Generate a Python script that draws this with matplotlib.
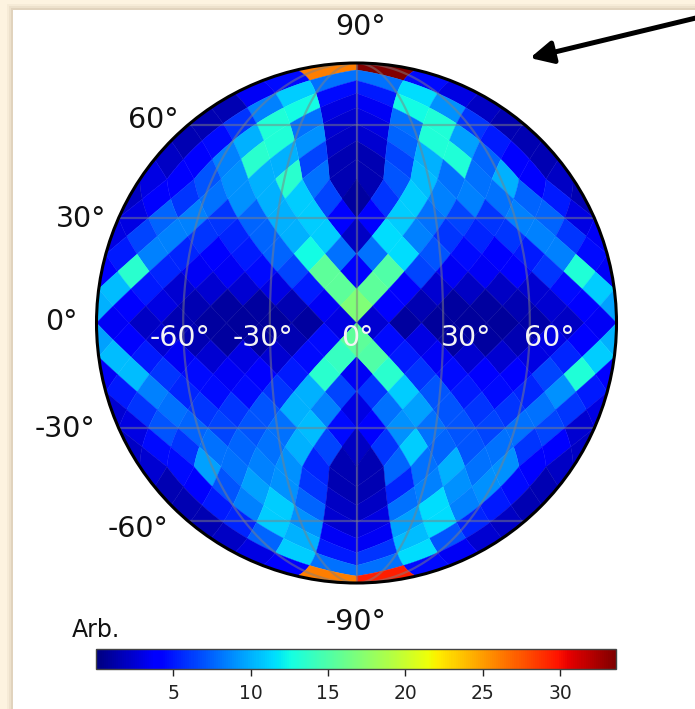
import numpy as np
import matplotlib
matplotlib.use("Agg")
import matplotlib.pyplot as plt
from matplotlib.collections import PolyCollection
from matplotlib.colors import Normalize
from matplotlib.patches import Circle, Rectangle, FancyArrowPatch
from matplotlib.projections.geo import MollweideAxes

W, H = 695, 709
NSIDE = 8

# Map values: one list per HEALPix ring, each read from the centre meridian outward.
north_west = [
    [26], [8, 4.5], [4.5, 11, 3.5], [3, 12.5, 8.5, 1.5], [2.5, 8, 13, 6, 1.5],
    [2, 9, 13, 10, 4.5, 1.5], [1.5, 6.5, 10, 13.5, 8.5, 4, 2],
    [1.5, 8, 13.5, 10, 9, 7, 4, 3], [1, 6.5, 11, 10, 9, 8, 6, 4, 2],
    [4, 11, 10, 7.5, 6, 8.5, 7.5, 3], [1.5, 11, 10, 7.5, 5.5, 6, 8.5, 6.5, 3],
    [8, 12.5, 7.5, 5, 4, 5.5, 8.5, 5], [3, 15.5, 6.5, 4.5, 3.5, 3.5, 5.5, 13.5, 4],
    [15.5, 5, 3, 2.5, 2.5, 2.5, 5, 10.5], [17, 3.5, 1.5, 1, 1, 1.5, 3, 4, 10],
    [3, 1, 0.8, 0.8, 1, 1.5, 2, 3.5],
]
north_east = [
    [33.6], [8, 4.5], [5, 11.5, 3], [3.5, 12.5, 9, 2], [3, 8, 13, 6, 1.5],
    [2.5, 7.5, 13, 9.5, 5, 1.5], [1.5, 6.5, 10, 13, 7.5, 4, 1.5],
    [1.5, 7, 10.5, 8, 8, 10, 4, 2], [1, 6, 11, 8.5, 8.5, 8, 7.5, 5, 1.5],
    [4, 11, 8, 6.5, 6, 8.5, 7.5, 3], [2, 11.5, 8.5, 6, 5.5, 6, 8.5, 6, 3.5],
    [8, 11.5, 7, 4.5, 4, 5, 8.5, 4.5], [4, 15, 6.5, 3.5, 3.5, 4, 6, 13, 3.5],
    [15.5, 4, 2.5, 2, 2, 2.5, 4.5, 11], [17, 3.8, 1.5, 1, 1, 1.5, 2.5, 4, 9.5],
    [2.5, 1, 0.8, 0.8, 0.8, 1.2, 2, 3.5],
]
south_west = [
    [15.5, 4.5, 1.5, 1, 1, 1.5, 2.5, 4, 9.5], [14, 4.5, 2.5, 3, 2.5, 3.5, 5, 10.5],
    [3.5, 13.5, 5, 3.8, 3.5, 4.5, 6, 10.5, 3.5], [6.5, 10, 6, 4.5, 4.5, 5.5, 8.5, 5],
    [3.5, 8.5, 10, 7, 6, 6, 8, 6, 2.5], [4.5, 10.5, 8, 7, 6.5, 7.5, 7, 3],
    [1.5, 6.5, 10, 8, 7.5, 8, 6, 4.5, 2], [1.5, 5.5, 9, 8.5, 8, 9.5, 4.5, 2.5],
    [1.5, 6, 9, 9.5, 7, 4, 1.5], [2, 7.5, 11, 8.5, 5, 1.5], [2.5, 9, 11, 5.5, 1.5],
    [3.5, 10, 7.5, 2], [5, 11, 3], [8, 4], [26],
]
south_east = [
    [15.5, 4.5, 3, 1, 1, 1.5, 3, 4, 10], [15, 5, 3.5, 2.5, 2.5, 3, 5.5, 11],
    [3.5, 13.5, 6, 4.5, 3.8, 4, 6.5, 13, 4], [6, 11, 7, 5, 4.5, 5.5, 9, 5],
    [3, 8, 9.5, 7, 6, 6, 8, 6, 3], [4, 9, 8, 7, 6.5, 8, 6.5, 2.5],
    [2, 6, 11, 7.5, 7, 8, 6, 4, 2], [1.5, 7.5, 8, 10, 8, 9, 4, 2],
    [1.5, 5.5, 8.5, 9, 9, 4.5, 1.5], [2, 8, 11.5, 8.5, 5, 1.5], [3, 9.5, 11.5, 5.5, 2],
    [3.5, 10.5, 7, 2.5], [6, 11.5, 3.5], [8, 4.5], [29.5],
]

colorbar_ticks = [5, 10, 15, 20, 25, 30]
value_min, value_max = 0.01, 33.6
parallels = [-60, -30, 30, 60]
meridians = [-60, -30, 0, 30, 60]

lat_labels = [("90°", 361, 27), ("60°", 153, 120), ("30°", 81, 219), ("0°", 61, 322),
              ("-30°", 65, 429), ("-60°", 138, 529), ("-90°", 356, 622)]
lon_labels = [("-60°", 180, 338), ("-30°", 263, 338), ("0°", 357, 338),
              ("30°", 466, 338), ("60°", 549, 338)]


def plane_to_sphere(xs, ys):
    """Inverse HEALPix projection, plane to (lon, lat) in radians."""
    xs, ys = np.asarray(xs, float), np.asarray(ys, float)
    lon, z = xs.copy(), 8 * ys / (3 * np.pi)
    polar = np.abs(ys) > np.pi / 4
    yt = np.abs(ys[polar])
    xt = xs[polar]
    xc = np.floor(xt / (np.pi / 2)) * (np.pi / 2) + np.pi / 4
    with np.errstate(divide="ignore", invalid="ignore"):
        t = np.where(yt < np.pi / 2 - 1e-9, (yt - np.pi / 4) / (yt - np.pi / 2), 0)
    lon[polar] = np.where(yt < np.pi / 2 - 1e-9, xt - t * (xt - xc), xc)
    z[polar] = np.sign(ys[polar]) * (1 - (2 - 4 * yt / np.pi) ** 2 / 3)
    return lon, np.arcsin(np.clip(z, -1, 1))


def pixel_outline(xc, yc):
    half = np.pi / (4 * NSIDE)
    cx = [xc, xc + half, xc, xc - half, xc]
    cy = [yc + half, yc, yc - half, yc, yc + half]
    t = np.linspace(0, 1, 10, endpoint=False)
    px = np.concatenate([cx[a] + (cx[a + 1] - cx[a]) * t for a in range(4)])
    py = np.concatenate([cy[a] + (cy[a + 1] - cy[a]) * t for a in range(4)])
    # keep polar pixels strictly inside their facet
    if abs(yc) > np.pi / 4 and abs(yc) + half > np.pi / 4:
        eps = 1e-9
        fx = np.floor(xc / (np.pi / 2)) * (np.pi / 2)
        px = np.clip(px, fx + eps, fx + np.pi / 2 - eps)
    return plane_to_sphere(px, py)


def ring_centres(ring, sign):
    """Plane x of one ring's pixels from the centre meridian outward."""
    step = np.pi / (2 * NSIDE)
    r = ring if ring <= 2 * NSIDE else 4 * NSIDE - ring
    if r < NSIDE:
        return [sign * (np.pi / 4 + (j - (r + 1) / 2) * step) for j in range(1, r + 1)]
    s = (ring - NSIDE + 1) % 2
    return [sign * (k + 0.5 * s) * step for k in range(NSIDE + 1 - s)]


rings = []
for number in range(1, 32):
    if number <= 16:
        west, east = north_west[number - 1], north_east[number - 1]
    else:
        west, east = south_west[number - 17], south_east[number - 17]
    rings.append((number, west, east))

moll = MollweideAxes.MollweideTransform(1)
verts, values = [], []
for number, west, east in rings:
    yc = np.pi / 2 - number * np.pi / (4 * NSIDE)
    for row, sign in ((west, -1), (east, 1)):
        for xc, val in zip(ring_centres(number, sign), row):
            lon, lat = pixel_outline(xc, yc)
            verts.append(moll.transform(np.column_stack([lon, lat])))
            values.append(val)

fig = plt.figure(figsize=(W / 100, H / 100), dpi=100)
fig.patch.set_facecolor("#fdf3e0")


def frac_rect(x0, y0, x1, y1, **kw):
    fig.add_artist(Rectangle((x0 / W, 1 - y1 / H), (x1 - x0) / W, (y1 - y0) / H,
                             transform=fig.transFigure, zorder=-10, **kw))


for grow, alpha in ((6, 0.05), (4, 0.07), (2, 0.10)):
    frac_rect(13 - grow, 10 - grow, W + 10, H + 10, fc="#806040", ec="none", alpha=alpha)
frac_rect(13, 10, W + 10, H + 10, fc="white", ec="none")

R = 260
CX, CY = 356.5, 323
ax = fig.add_axes([(CX - R) / W, 1 - (CY + R) / H, 2 * R / W, 2 * R / H])
lim = np.sqrt(2)
ax.set_xlim(-lim, lim)
ax.set_ylim(-lim, lim)
ax.set_aspect("equal")
ax.axis("off")

coll = PolyCollection(verts, array=np.array(values), cmap="jet",
                      norm=Normalize(value_min, value_max),
                      edgecolors="face", linewidths=0.25, zorder=1)
ax.add_collection(coll)
edge = Circle((0, 0), lim, fc="none", ec="black", lw=2.2, zorder=4, clip_on=False)
ax.add_patch(edge)
coll.set_clip_path(Circle((0, 0), lim, transform=ax.transData))

geo = moll + ax.transData
for lat in parallels:
    lons = np.radians(np.linspace(-90, 90, 90))
    ax.plot(lons, np.full_like(lons, np.radians(lat)), transform=geo,
            color="#808080", alpha=0.5, lw=1.6, zorder=2)
for lon in meridians:
    lats = np.radians(np.linspace(-89.5, 89.5, 180))
    ax.plot(np.full_like(lats, np.radians(lon)), lats, transform=geo,
            color="#808080", alpha=0.5, lw=1.6, zorder=2)

for text, x, y in lat_labels:
    fig.text(x / W, 1 - y / H, text, ha="center", va="center", fontsize=20.5, color="#111111")
for text, x, y in lon_labels:
    fig.text(x / W, 1 - y / H, text, ha="center", va="center", fontsize=20.5, color="#f4f4f4", zorder=10)

cax = fig.add_axes([96 / W, 1 - 669 / H, 520 / W, 20 / H])
cb = fig.colorbar(coll, cax=cax, orientation="horizontal", ticks=colorbar_ticks)
cb.ax.tick_params(labelsize=13.5, length=5, width=1, pad=6, colors="#222222")
cb.outline.set_linewidth(1)
cb.outline.set_edgecolor("#444444")
fig.text(96 / W, 1 - 630 / H, "Arb.", ha="center", va="center", fontsize=17, color="#111111")

arrow = FancyArrowPatch((700 / W, 1 - 17 / H), (530 / W, 1 - 58 / H), transform=fig.transFigure,
                        arrowstyle="-|>", mutation_scale=34, lw=3.6, color="black",
                        shrinkA=0, shrinkB=0, zorder=20)
fig.add_artist(arrow)

fig.savefig("out.png", dpi=100, facecolor=fig.get_facecolor())
